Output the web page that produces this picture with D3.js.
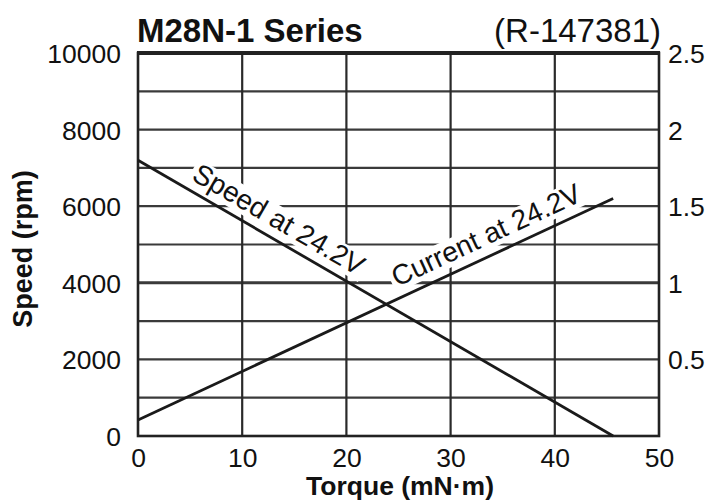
<!DOCTYPE html>
<html>
<head>
<meta charset="utf-8">
<script src="https://cdn.jsdelivr.net/npm/d3@7"></script>
<style>
  html, body { margin: 0; padding: 0; background: #fff; }
  svg { display: block; }
  text { font-family: "Liberation Sans", Arial, Helvetica, sans-serif; fill: #111; }
</style>
</head>
<body>
<svg id="chart" width="714" height="502"></svg>
<script>
// ---- data ----
const torque = [0, 45.6];            // mN·m
const speed = [7200, 0];             // rpm at 24.2V
const current = [0.105, 1.55];       // A at 24.2V
const xTicks = [0, 10, 20, 30, 40, 50];
const yLeftTicks = [0, 2000, 4000, 6000, 8000, 10000];
const yRightTicks = [0.5, 1, 1.5, 2, 2.5];
const yGridTicks = [1000, 2000, 3000, 4000, 5000, 6000, 7000, 8000, 9000];
const title = "M28N-1 Series";
const code = "(R-147381)";
const speedLabel = "Speed at 24.2V";
const currentLabel = "Current at 24.2V";

const svg = d3.select("#chart");
const L = 138, R = 659, T = 53, B = 436;

const x = d3.scaleLinear().domain([0, 50]).range([L, R]);
const y = d3.scaleLinear().domain([0, 10000]).range([B, T]);
const yR = d3.scaleLinear().domain([0, 2.5]).range([B, T]);

// grid
const g = svg.append("g");
g.selectAll("line.h").data(yGridTicks).join("line")
  .attr("x1", L).attr("x2", R)
  .attr("y1", d => y(d)).attr("y2", d => y(d))
  .attr("stroke", "#3a3a3a")
  .attr("stroke-width", d => d === 4000 ? 3 : 2.2);
g.selectAll("line.v").data(xTicks.slice(1, -1)).join("line")
  .attr("y1", T).attr("y2", B)
  .attr("x1", d => x(d)).attr("x2", d => x(d))
  .attr("stroke", "#2a2a2a").attr("stroke-width", 2.2);
g.append("rect").attr("x", L).attr("y", T).attr("width", R - L).attr("height", B - T)
  .attr("fill", "none").attr("stroke", "#222").attr("stroke-width", 2.6);
g.append("line").attr("x1", L - 1).attr("x2", R + 1).attr("y1", T).attr("y2", T)
  .attr("stroke", "#222").attr("stroke-width", 4);

// axes
const axL = svg.append("g").attr("transform", `translate(${L},0)`)
  .call(d3.axisLeft(y).tickValues(yLeftTicks).tickSize(0).tickPadding(17).tickFormat(d3.format("d")));
const axR = svg.append("g").attr("transform", `translate(${R},0)`)
  .call(d3.axisRight(yR).tickValues(yRightTicks).tickSize(0).tickPadding(9).tickFormat(d => String(d)));
const axB = svg.append("g").attr("transform", `translate(0,${B})`)
  .call(d3.axisBottom(x).tickValues(xTicks).tickSize(0).tickFormat(d3.format("d")));
[axL, axR, axB].forEach(a => {
  a.select(".domain").remove();
  a.selectAll("text").style("font-size", "26.5px").attr("fill", "#111");
});
axL.selectAll("text").attr("dy", "0.36em");
axR.selectAll("text").attr("dy", "0.36em");
axB.selectAll("text").attr("y", 31).attr("dy", 0);

// line labels (drawn before the lines so the white backing only hides grid)
function lineLabel(pts, frac, offset, txt) {
  const [p0, p1] = pts;
  const ang = Math.atan2(p1[1] - p0[1], p1[0] - p0[0]);
  const px = p0[0] + (p1[0] - p0[0]) * frac;
  const py = p0[1] + (p1[1] - p0[1]) * frac;
  const nx = Math.sin(ang) * offset, ny = -Math.cos(ang) * offset;
  const lg = svg.append("g")
    .attr("transform", `translate(${px + nx},${py + ny}) rotate(${ang * 180 / Math.PI})`);
  const bg = lg.append("rect").attr("fill", "#fff");
  const t = lg.append("text")
    .attr("text-anchor", "start")
    .style("font-size", "28px")
    .text(txt);
  const bb = t.node().getBBox();
  bg.attr("x", bb.x - 3).attr("y", bb.y + 3).attr("width", bb.width + 6).attr("height", bb.height - 4);
}
const ptsS = torque.map((t, i) => [x(t), y(speed[i])]);
const ptsC = torque.map((t, i) => [x(t), yR(current[i])]);
lineLabel(ptsS, 0.10, 10, speedLabel);
lineLabel(ptsC, 0.555, 11, currentLabel);

// lines
const line = d3.line();
svg.append("path").attr("d", line(ptsS)).attr("fill", "none").attr("stroke", "#1a1a1a").attr("stroke-width", 2.8);
svg.append("path").attr("d", line(ptsC)).attr("fill", "none").attr("stroke", "#1a1a1a").attr("stroke-width", 2.8);

// titles
svg.append("text").attr("x", L - 1).attr("y", 42).style("font-size", "33px").style("font-weight", "bold").text(title);
svg.append("text").attr("x", R + 2).attr("y", 42).attr("text-anchor", "end").style("font-size", "33px").text(code);
svg.append("text").attr("x", 400).attr("y", 495).attr("text-anchor", "middle")
  .style("font-size", "26.5px").style("font-weight", "bold").text("Torque (mN·m)");
svg.append("text").attr("transform", `translate(32,249) rotate(-90)`).attr("text-anchor", "middle")
  .style("font-size", "27px").style("font-weight", "bold").text("Speed (rpm)");
</script>
</body>
</html>
